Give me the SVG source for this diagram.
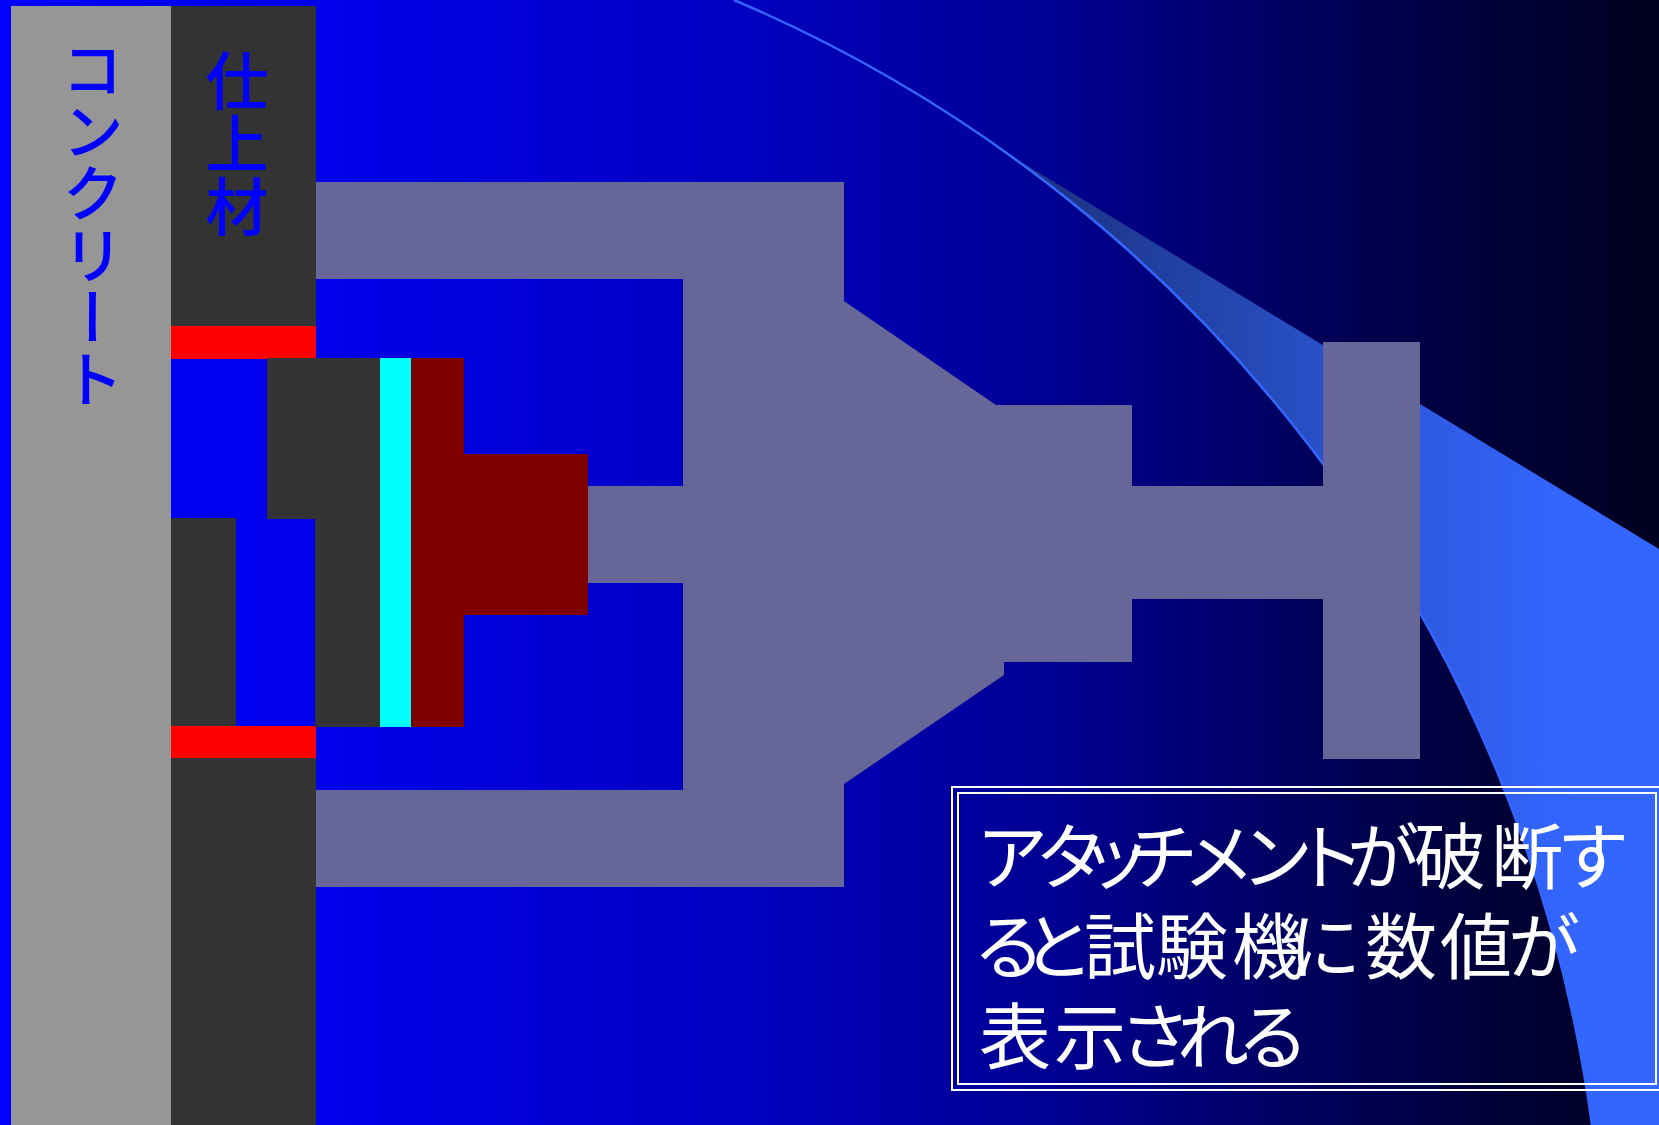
<svg xmlns="http://www.w3.org/2000/svg" width="1659" height="1125" viewBox="0 0 1659 1125">
  <defs>
    <linearGradient id="bg" x1="0" y1="0" x2="1659" y2="0" gradientUnits="userSpaceOnUse">
      <stop offset="0" stop-color="#0000FF"/>
      <stop offset="0.19" stop-color="#0000EC"/>
      <stop offset="0.45" stop-color="#0000C0"/>
      <stop offset="0.64" stop-color="#000090"/>
      <stop offset="0.77" stop-color="#000062"/>
      <stop offset="0.89" stop-color="#00003A"/>
      <stop offset="1" stop-color="#000020"/>
    </linearGradient>
    <linearGradient id="swoosh" x1="980" y1="0" x2="1570" y2="0" gradientUnits="userSpaceOnUse">
      <stop offset="0" stop-color="#1A2C74"/>
      <stop offset="0.45" stop-color="#2448B4"/>
      <stop offset="0.75" stop-color="#2E5AE2"/>
      <stop offset="1" stop-color="#3366FF"/>
    </linearGradient>
    <style>
      .grey { fill: #969696; }
      .dark { fill: #333333; }
      .red { fill: #FF0000; }
      .cyan { fill: #00FFFF; }
      .maroon { fill: #800000; }
      .jig { fill: #666699; }
      .vlabel { font-family: "Noto Sans CJK JP", sans-serif; fill: #0000FF; writing-mode: vertical-rl; font-weight: 500; }
      .note { font-family: "Noto Sans CJK JP", sans-serif; fill: #FFFFFF; font-size: 72px; text-anchor: middle; }
      .frame { fill: none; stroke: #FFFFFF; stroke-width: 2; }
    </style>
  </defs>

  <!-- background -->
  <rect x="0" y="0" width="1659" height="1125" fill="url(#bg)"/>

  <!-- decorative swoosh -->
  <g id="swoosh-band">
    <path d="M990,143 L1659,549 L1659,1125 L1592,1125 A1430,1430 0 0 0 990,143 Z" fill="url(#swoosh)"/>
    <path d="M734,0 A1430,1430 0 0 1 1592,1125" fill="none" stroke="#3366FF" stroke-width="2.5"/>
  </g>

  <!-- wall section -->
  <g id="concrete">
    <rect class="grey" x="11" y="6" width="160" height="1119"/>
    <text class="vlabel" x="93" y="38" font-size="62">コンクリート</text>
  </g>

  <g id="finish">
    <rect class="dark" x="171" y="6" width="145" height="320"/>
    <rect class="dark" x="171" y="758" width="145" height="367"/>
    <rect class="dark" x="171" y="518" width="65" height="209"/>
    <text class="vlabel" x="237" y="49" font-size="63">仕上材</text>
  </g>

  <g id="cut-lines">
    <rect class="red" x="171" y="326" width="145" height="33"/>
    <rect class="red" x="171" y="726" width="145" height="32"/>
  </g>

  <!-- attachment on the cut specimen -->
  <g id="attachment">
    <path class="dark" d="M267,358 H380 V727 H315 V519 H267 Z"/>
    <rect class="cyan" x="380" y="358" width="31" height="369"/>
    <path class="maroon" d="M411,358 H464 V454 H588 V615 H464 V727 H411 Z"/>
  </g>

  <!-- tensile tester -->
  <g id="tester">
    <path class="jig" d="M316,182 H844 V301 L996,405 H1132 V486 H1323 V342 H1420 V759 H1323 V599 H1132 V662 H1004 V675 L844,784 V887 H316 V790 H683 V583 H588 V486 H683 V279 H316 Z"/>
  </g>

  <!-- note, set glyph by glyph for proportional spacing -->
  <g id="note">
    <rect class="frame" x="952" y="787" width="720" height="303"/>
    <rect class="frame" x="958" y="793" width="698" height="291"/>
    <text class="note" x="1012 1071 1116 1162 1219 1277 1329 1383 1450 1527 1593" y="883">アタッチメントが破断す</text>
    <text class="note" x="1009 1058 1120 1192 1268 1325 1401 1476 1544" y="973">ると試験機に数値が</text>
    <text class="note" x="1015 1090 1155 1213 1273" y="1063">表示される</text>
  </g>
</svg>
